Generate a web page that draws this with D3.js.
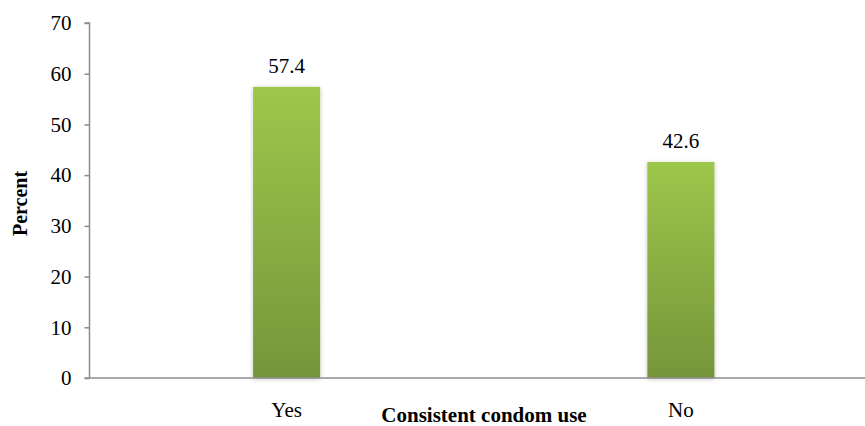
<!DOCTYPE html>
<html>
<head>
<meta charset="utf-8">
<script src="https://cdn.jsdelivr.net/npm/d3@7"></script>
<style>
  body { margin: 0; background: #fff; }
</style>
</head>
<body>
<div id="chart"></div>
<script>
const width = 865;
const height = 426;
const margin = {top: 23, right: -13, bottom: 48, left: 89.5};
const serif = "'Liberation Serif', 'Times New Roman', Times, serif";

const categories = ["Yes", "No"];
const values = [57.4, 42.6];
const yTicks = [0, 10, 20, 30, 40, 50, 60, 70];

const x = d3.scaleBand()
  .domain(categories)
  .range([margin.left, width - margin.right])
  .paddingInner(0)
  .paddingOuter(0);

const y = d3.scaleLinear()
  .domain([0, 70])
  .range([height - margin.bottom, margin.top]);

const barWidth = x.bandwidth() * 0.17;

const svg = d3.select("#chart")
  .append("svg")
  .attr("width", width)
  .attr("height", height);

const defs = svg.append("defs");
const grad = defs.append("linearGradient")
  .attr("id", "barGrad")
  .attr("x1", 0).attr("y1", 0).attr("x2", 0).attr("y2", 1);
grad.append("stop").attr("offset", "0%").attr("stop-color", "#9dc74b");
grad.append("stop").attr("offset", "100%").attr("stop-color", "#76953a");

const shadow = defs.append("filter")
  .attr("id", "shadow")
  .attr("x", "-20%").attr("y", "-10%").attr("width", "140%").attr("height", "120%");
shadow.append("feDropShadow")
  .attr("dx", 0).attr("dy", 1)
  .attr("stdDeviation", 2)
  .attr("flood-color", "#000")
  .attr("flood-opacity", 0.25);

// bars
svg.append("g")
  .selectAll("rect")
  .data(categories)
  .join("rect")
  .attr("x", d => x(d) + (x.bandwidth() - barWidth) / 2)
  .attr("width", barWidth)
  .attr("y", (d, i) => y(values[i]))
  .attr("height", (d, i) => y(0) - y(values[i]))
  .attr("fill", "url(#barGrad)")
  .attr("filter", "url(#shadow)");

// value labels
svg.append("g")
  .selectAll("text")
  .data(categories)
  .join("text")
  .attr("x", d => x(d) + x.bandwidth() / 2)
  .attr("y", (d, i) => y(values[i]) - 14)
  .attr("text-anchor", "middle")
  .attr("font-family", serif)
  .attr("font-size", 21)
  .text((d, i) => values[i]);

// y axis
const yAxis = svg.append("g")
  .attr("transform", `translate(${margin.left},0)`)
  .call(d3.axisLeft(y).tickValues(yTicks).tickSize(5).tickPadding(13))
  .attr("font-family", serif)
  .attr("font-size", 21);
yAxis.selectAll("line, path").attr("stroke", "#8c8c8c").attr("stroke-width", 1.5);
yAxis.select(".domain").attr("d", `M-5,${y(70)}H0V${y(0)}`);
yAxis.selectAll("text").attr("fill", "#000");

// x axis
const xAxis = svg.append("g")
  .attr("transform", `translate(0,${y(0)})`)
  .call(d3.axisBottom(x).tickSize(0).tickPadding(24))
  .attr("font-family", serif)
  .attr("font-size", 21);
xAxis.select(".domain").attr("stroke", "#8c8c8c").attr("stroke-width", 1.5)
  .attr("d", `M${margin.left - 5},0H${width}`);
xAxis.selectAll("text").attr("fill", "#000");

// axis titles
svg.append("text")
  .attr("x", 484)
  .attr("y", 422)
  .attr("text-anchor", "middle")
  .attr("font-family", serif)
  .attr("font-size", 21)
  .attr("font-weight", "bold")
  .text("Consistent condom use");

svg.append("text")
  .attr("transform", `translate(27,${(y(0) + y(70)) / 2 + 3}) rotate(-90)`)
  .attr("text-anchor", "middle")
  .attr("font-family", serif)
  .attr("font-size", 20)
  .attr("font-weight", "bold")
  .text("Percent");
</script>
</body>
</html>
